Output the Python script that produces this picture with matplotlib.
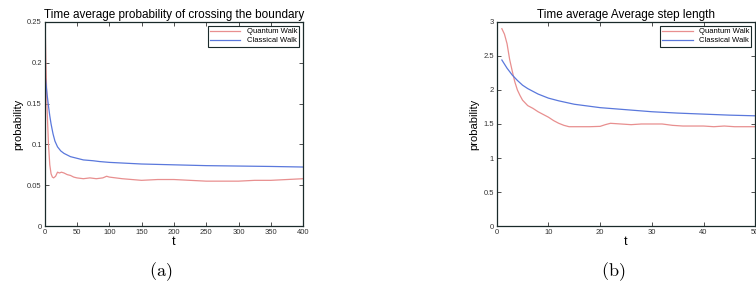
import numpy as np
import matplotlib
matplotlib.use("Agg")
import matplotlib.pyplot as plt

plt.rcParams['font.family'] = ['Liberation Sans', 'DejaVu Sans']
plt.rcParams['mathtext.fontset'] = 'cm'

# (a) time average probability of crossing the boundary
t_a_quantum = [0, 1, 2, 4, 6, 8, 10, 12, 14, 17, 20, 23, 26, 30, 35, 40, 45, 50, 60, 70, 80, 90, 96, 100,
               110, 120, 135, 150, 175, 200, 225, 250, 275, 300, 325, 350, 375, 400]
p_a_quantum = [0.25, 0.24, 0.20, 0.14, 0.10, 0.075, 0.064, 0.060, 0.059, 0.061, 0.066, 0.065, 0.066, 0.065,
               0.063, 0.062, 0.060, 0.059, 0.058, 0.059, 0.058, 0.059, 0.061, 0.060, 0.059, 0.058, 0.057,
               0.056, 0.057, 0.057, 0.056, 0.055, 0.055, 0.055, 0.056, 0.056, 0.057, 0.058]
t_a_classical = [0, 2, 4, 6, 8, 10, 13, 16, 20, 25, 30, 40, 50, 60, 75, 85, 100, 125, 150, 200, 250, 300, 350, 400]
p_a_classical = [0.19, 0.175, 0.16, 0.147, 0.135, 0.125, 0.113, 0.104, 0.097, 0.092, 0.089, 0.085, 0.083,
                 0.081, 0.080, 0.079, 0.078, 0.077, 0.076, 0.075, 0.074, 0.0735, 0.073, 0.0723]

# (b) time average of average step length
t_b_quantum = [1, 1.5, 2, 2.5, 3, 3.5, 4, 4.5, 5, 6, 7, 8, 10, 11, 12, 13, 14, 16, 18, 20, 21, 22, 24, 26,
               28, 30, 32, 34, 36, 38, 40, 42, 44, 46, 48, 50]
p_b_quantum = [2.90, 2.82, 2.68, 2.45, 2.28, 2.12, 2.0, 1.92, 1.85, 1.77, 1.73, 1.68, 1.60, 1.55, 1.51,
               1.48, 1.46, 1.46, 1.46, 1.465, 1.49, 1.51, 1.50, 1.49, 1.50, 1.50, 1.50, 1.48, 1.47, 1.47,
               1.47, 1.46, 1.47, 1.46, 1.46, 1.46]
t_b_classical = [1, 2, 3, 4, 5, 6, 8, 10, 12, 15, 20, 25, 30, 35, 40, 45, 50]
p_b_classical = [2.44, 2.32, 2.22, 2.14, 2.07, 2.02, 1.94, 1.88, 1.84, 1.79, 1.74, 1.71, 1.68, 1.66, 1.645,
                 1.63, 1.62]

red = '#e88f8f'
blue = '#5a78dc'

fig = plt.figure(figsize=(7.56, 2.88), dpi=100)
ax1 = fig.add_axes([0.059, 0.215, 0.342, 0.709])
ax2 = fig.add_axes([0.657, 0.215, 0.342, 0.709])

def style(ax):
    ax.tick_params(direction='in', top=True, right=True, labelsize=5.5, length=3, width=0.6, pad=2,
                   colors='#333333')
    for s in ax.spines.values():
        s.set_linewidth(0.9)
        s.set_color('#1a2a2a')
    ax.set_xlabel('t', fontsize=9, labelpad=0)
    ax.set_ylabel('probability', fontsize=8, labelpad=3)

ax1.plot(t_a_quantum, p_a_quantum, color=red, lw=0.9, label='Quantum Walk')
ax1.plot(t_a_classical, p_a_classical, color=blue, lw=0.9, label='Classical Walk')
ax1.set_xlim(0, 400)
ax1.set_ylim(0, 0.25)
ax1.set_xticks(np.arange(0, 401, 50))
ax1.set_yticks([0, 0.05, 0.1, 0.15, 0.2, 0.25])
ax1.set_yticklabels(['0', '0.05', '0.1', '0.15', '0.2', '0.25'])
ax1.set_title('Time average probability of crossing the boundary', fontsize=8.5, pad=3)
style(ax1)

ax2.plot(t_b_quantum, p_b_quantum, color=red, lw=0.9, label='Quantum Walk')
ax2.plot(t_b_classical, p_b_classical, color=blue, lw=0.9, label='Classical Walk')
ax2.set_xlim(0, 50)
ax2.set_ylim(0, 3)
ax2.set_xticks(np.arange(0, 51, 10))
ax2.set_yticks([0, 0.5, 1, 1.5, 2, 2.5, 3])
ax2.set_yticklabels(['0', '0.5', '1', '1.5', '2', '2.5', '3'])
ax2.set_title('Time average Average step length', fontsize=8.5, pad=3)
style(ax2)

for ax in (ax1, ax2):
    leg = ax.legend(loc='upper right', fontsize=5.5, fancybox=False, framealpha=1,
                    handlelength=4, borderpad=0.3, labelspacing=0.2, borderaxespad=0.5)
    leg.get_frame().set_edgecolor('#1a2a2a')
    leg.get_frame().set_linewidth(0.8)

fig.text(0.212, 0.057, r'$\mathrm{(a)}$', fontsize=13, ha='center', va='center')
fig.text(0.811, 0.057, r'$\mathrm{(b)}$', fontsize=13, ha='center', va='center')

fig.savefig('out.png', dpi=100)
